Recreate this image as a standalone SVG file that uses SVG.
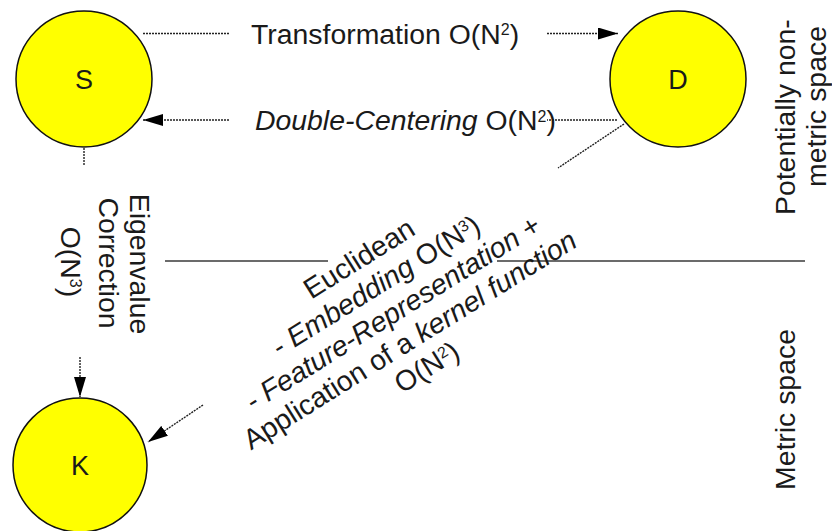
<svg xmlns="http://www.w3.org/2000/svg" width="832" height="531" viewBox="0 0 832 531">
  <defs>
    <style>
      .node { fill: #ffff00; stroke: #111; stroke-width: 1.5; }
      .nlabel { font-family: "Liberation Sans", Arial, sans-serif; font-size: 27px; fill: #1a1a1a; text-anchor: middle; }
      .lbl { font-family: "Liberation Sans", Arial, sans-serif; font-size: 28.4px; fill: #1a1a1a; }
      .it { font-style: italic; }
      .sup { font-size: 16px; }
      .dot { fill: none; stroke: #222; stroke-width: 1.4; stroke-dasharray: 2 1; }
      .sep { fill: none; stroke: #3a3a3a; stroke-width: 1.7; }
    </style>
    <marker id="arrow" viewBox="0 0 20 12" refX="20" refY="6" markerWidth="20" markerHeight="12" orient="auto" markerUnits="userSpaceOnUse">
      <path d="M0,0 L20,6 L0,12 Z" fill="#000"/>
    </marker>
  </defs>

  <rect width="832" height="531" fill="#fff"/>

  <!-- separator between non-metric and metric space -->
  <g id="separator">
    <line class="sep" x1="165" y1="261" x2="328" y2="261"/>
    <line class="sep" x1="497" y1="261" x2="805" y2="261"/>
  </g>

  <!-- nodes -->
  <g id="node-S">
    <circle class="node" cx="84" cy="79" r="68"/>
    <text class="nlabel" x="84" y="89">S</text>
  </g>
  <g id="node-D">
    <circle class="node" cx="678" cy="79" r="68"/>
    <text class="nlabel" x="678" y="89">D</text>
  </g>
  <g id="node-K">
    <circle class="node" cx="80" cy="465" r="67"/>
    <text class="nlabel" x="80" y="475">K</text>
  </g>

  <!-- connectors -->
  <g id="connectors">
    <line class="dot" x1="143" y1="33.5" x2="229" y2="33.5"/>
    <line class="dot" x1="547" y1="33.5" x2="618" y2="33.5" marker-end="url(#arrow)"/>

    <line class="dot" x1="617" y1="120" x2="547" y2="120"/>
    <line class="dot" x1="229" y1="120" x2="143" y2="120" marker-end="url(#arrow)"/>

    <line class="dot" x1="84" y1="148" x2="84" y2="165"/>
    <line class="dot" x1="80" y1="357" x2="80" y2="397" marker-end="url(#arrow)"/>

    <line class="dot" x1="624" y1="124" x2="558" y2="168"/>
    <line class="dot" x1="203" y1="405" x2="148" y2="442" marker-end="url(#arrow)"/>
  </g>

  <!-- connector labels -->
  <g id="labels">
    <text class="lbl" x="251" y="43.5">Transformation O(N<tspan class="sup" dy="-8.5">2</tspan><tspan dy="8.5">)</tspan></text>
    <text class="lbl" x="255" y="130"><tspan class="it">Double-Centering</tspan> O(N<tspan class="sup" dy="-8.5">2</tspan><tspan dy="8.5">)</tspan></text>

    <g transform="rotate(90)">
      <text class="lbl" text-anchor="middle" x="264" y="-130">Eigenvalue</text>
      <text class="lbl" text-anchor="middle" x="263" y="-98.5">Correction</text>
      <text class="lbl" text-anchor="middle" x="262" y="-61">O(N<tspan class="sup" dy="-8.5">3</tspan><tspan dy="8.5">)</tspan></text>
    </g>

    <g transform="translate(398,321) rotate(-32)">
      <text class="lbl" text-anchor="middle" x="0" y="-64">Euclidean</text>
      <text class="lbl" text-anchor="middle" x="0" y="-32">- <tspan class="it">Embedding</tspan> O(N<tspan class="sup" dy="-8.5">3</tspan><tspan dy="8.5">)</tspan></text>
      <text class="lbl" text-anchor="middle" x="0" y="0">- <tspan class="it">Feature-Representation</tspan> +</text>
      <text class="lbl" text-anchor="middle" x="0" y="32">Application of a <tspan class="it">kernel function</tspan></text>
      <text class="lbl" text-anchor="middle" x="0" y="64">O(N<tspan class="sup" dy="-8.5">2</tspan><tspan dy="8.5">)</tspan></text>
    </g>
  </g>

  <!-- space annotations -->
  <g id="space-labels" transform="rotate(-90)">
    <text class="lbl" x="-215" y="795">Potentially non-</text>
    <text class="lbl" x="-187" y="826">metric space</text>
    <text class="lbl" x="-490" y="795">Metric space</text>
  </g>
</svg>
